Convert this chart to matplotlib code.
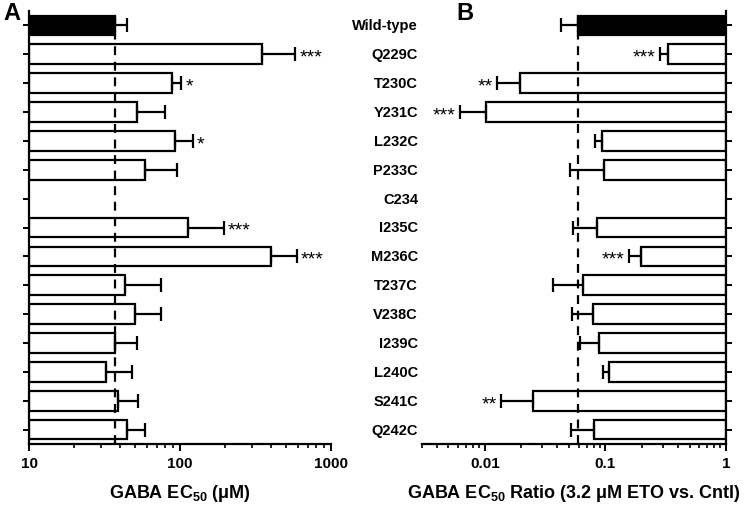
import matplotlib
matplotlib.use("Agg")
import matplotlib.pyplot as plt
import matplotlib.transforms as mtransforms
import numpy as np

plt.rcParams["font.family"] = ["Liberation Sans", "DejaVu Sans"]
plt.rcParams["font.weight"] = "bold"
plt.rcParams["mathtext.fontset"] = "custom"
plt.rcParams["mathtext.rm"] = "Liberation Sans:bold"
plt.rcParams["mathtext.bf"] = "Liberation Sans:bold"
plt.rcParams["mathtext.it"] = "Liberation Sans:bold"

labels = ["Wild-type", "Q229C", "T230C", "Y231C", "L232C", "P233C", "C234", "I235C",
          "M236C", "T237C", "V238C", "I239C", "L240C", "S241C", "Q242C"]
# panel A: GABA EC50 (uM), mean and mean+SEM (nan = not measured)
ec50 = [37, 347, 89, 52, 92, 59, np.nan, 113, 401, 43.4, 50, 36.9, 32.3, 39, 44.5]
ec50_hi = [44.7, 580, 102, 79, 121, 95, np.nan, 195, 593, 75, 75, 51.6, 48, 53, 58.5]
stars_a = ["", "***", "*", "", "*", "", "", "***", "***", "", "", "", "", "", ""]
# panel B: EC50 ratio (3.2 uM ETO vs control), mean and mean-SEM
ratio = [0.0589, 0.331, 0.0197, 0.0103, 0.094, 0.097, np.nan, 0.0849, 0.198,
         0.0651, 0.0782, 0.0888, 0.1067, 0.0251, 0.0798]
ratio_lo = [0.0428, 0.281, 0.0127, 0.0062, 0.0822, 0.0506, np.nan, 0.0538, 0.157,
            0.0371, 0.0528, 0.0619, 0.0957, 0.01365, 0.0518]
stars_b = ["", "***", "**", "***", "", "", "", "", "***", "", "", "", "", "**", ""]

W, H = 745, 506
fig = plt.figure(figsize=(W / 100, H / 100), dpi=100)
top, bot = 12, 445
axA = fig.add_axes([29 / W, 1 - bot / H, 302 / W, (bot - top) / H])
axB = fig.add_axes([421.7 / W, 1 - bot / H, (726 - 421.7) / W, (bot - top) / H])

y = np.arange(len(labels))
ec50 = np.array(ec50); ec50_hi = np.array(ec50_hi)
ratio = np.array(ratio); ratio_lo = np.array(ratio_lo)
colors = ["black"] + ["white"] * (len(labels) - 1)
bh = 0.68
lw = 1.6

# ---- panel A
axA.set_xscale("log")
axA.set_xlim(10, 1000)
axA.set_ylim(len(labels) - 0.5, -0.5)
axA.barh(y, ec50 - 10, left=10, height=bh, color=colors, edgecolor="black", lw=lw, zorder=2)
axA.axvline(ec50[0], color="black", ls=(0, (4, 3)), lw=1.6, zorder=2.5)
axA.errorbar(ec50, y, xerr=[np.zeros_like(ec50), ec50_hi - ec50], fmt="none",
             ecolor="black", elinewidth=lw, capsize=5, capthick=lw, zorder=3)
for yi, hi, s in zip(y, ec50_hi, stars_a):
    if s:
        axA.annotate(s, (hi, yi), xytext=(3, -2), textcoords="offset points",
                     ha="left", va="center", fontsize=14, fontweight="normal")
axA.spines[["top", "right"]].set_visible(False)
axA.set_yticks(y)
axA.set_yticklabels([])
axA.set_xticks([10, 100, 1000])
axA.set_xticklabels(["10", "100", "1000"])
axA.set_xlabel(r"GABA EC$_{50}$ (μM)", fontsize=13, fontweight="bold", labelpad=9)

# ---- panel B
axB.set_xscale("log")
axB.set_xlim(0.003, 1)
axB.set_ylim(len(labels) - 0.5, -0.5)
axB.barh(y, 1 - ratio, left=ratio, height=bh, color=colors, edgecolor="black", lw=lw, zorder=2)
axB.axvline(ratio[0], color="black", ls=(0, (4, 3)), lw=1.6, zorder=2.5)
axB.errorbar(ratio, y, xerr=[ratio - ratio_lo, np.zeros_like(ratio)], fmt="none",
             ecolor="black", elinewidth=lw, capsize=5, capthick=lw, zorder=3)
for yi, lo, s in zip(y, ratio_lo, stars_b):
    if s:
        axB.annotate(s, (lo, yi), xytext=(-3, -2), textcoords="offset points",
                     ha="right", va="center", fontsize=14, fontweight="normal")
axB.spines[["top", "left"]].set_visible(False)
axB.yaxis.tick_right()
axB.set_yticks(y)
axB.set_yticklabels([])
axB.set_xticks([0.01, 0.1, 1])
axB.set_xticklabels(["0.01", "0.1", "1"])
axB.set_xlabel(r"GABA EC$_{50}$ Ratio (3.2 μM ETO vs. Cntl)", fontsize=13,
               fontweight="bold", labelpad=9)

for ax in (axA, axB):
    for sp in ax.spines.values():
        sp.set_linewidth(1.6)
    ax.tick_params(axis="both", which="major", width=1.4, length=5, labelsize=11)
    ax.tick_params(axis="x", which="minor", width=1.2, length=3)
    ax.tick_params(axis="y", length=4)

# row labels between the panels
tr = mtransforms.blended_transform_factory(fig.transFigure, axB.transData)
for yi, lab in zip(y, labels):
    fig.text(418 / W, yi, lab, transform=tr, ha="right", va="center",
             fontsize=10.5, fontweight="bold")

fig.text(3 / W, 1 - 13 / H, "A", fontsize=17, fontweight="bold", va="center")
fig.text(456 / W, 1 - 13 / H, "B", fontsize=17, fontweight="bold", va="center")

fig.savefig("out.png", dpi=100)
